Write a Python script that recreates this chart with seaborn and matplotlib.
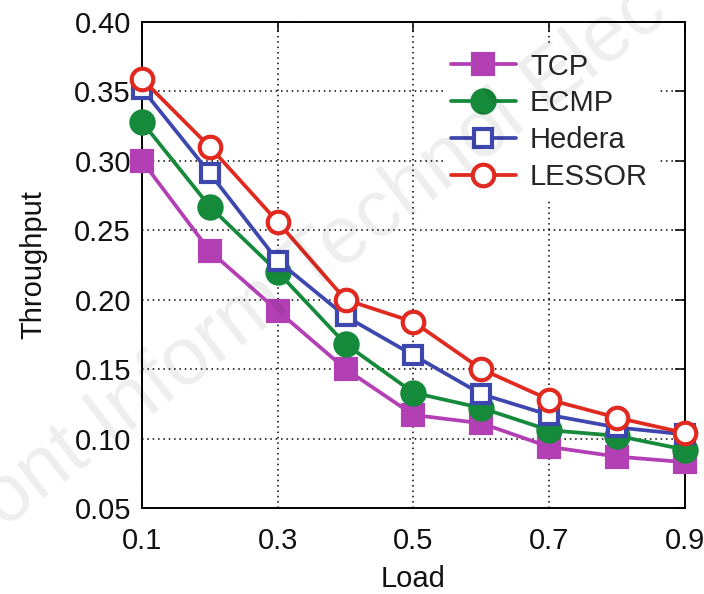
import matplotlib
matplotlib.use("Agg")
import matplotlib.pyplot as plt
import seaborn as sns
import pandas as pd
import numpy as np

load = [0.1, 0.2, 0.3, 0.4, 0.5, 0.6, 0.7, 0.8, 0.9]
tcp = [0.300, 0.235, 0.192, 0.150, 0.117, 0.111, 0.094, 0.087, 0.083]
ecmp = [0.328, 0.267, 0.220, 0.168, 0.133, 0.122, 0.106, 0.102, 0.092]
hedera = [0.352, 0.291, 0.228, 0.188, 0.160, 0.132, 0.117, 0.108, 0.103]
lessor = [0.359, 0.310, 0.256, 0.200, 0.184, 0.150, 0.128, 0.115, 0.104]
series_names = ["TCP", "ECMP", "Hedera", "LESSOR"]
x_ticks = [0.1, 0.3, 0.5, 0.7, 0.9]
y_ticks = [0.05, 0.10, 0.15, 0.20, 0.25, 0.30, 0.35, 0.40]

sns.set_style("white")
plt.rcParams['font.family'] = ['Liberation Sans', 'DejaVu Sans']

fig = plt.figure(figsize=(7.04, 5.94), dpi=100)
ax = fig.add_axes([0.2017, 0.1448, 0.973 - 0.2017, 0.963 - 0.1448])

styles = {
    "TCP": dict(color="#b23fb4", marker="s", mfc="#b23fb4", ms=14),
    "ECMP": dict(color="#158a3a", marker="o", mfc="#158a3a", ms=16),
    "Hedera": dict(color="#3d47ad", marker="s", mfc="white", ms=13.5),
    "LESSOR": dict(color="#e0291f", marker="o", mfc="white", ms=15.5),
}
values = {"TCP": tcp, "ECMP": ecmp, "Hedera": hedera, "LESSOR": lessor}

for name in series_names:
    df = pd.DataFrame({"Load": load, "Throughput": values[name]})
    st = styles[name]
    sns.lineplot(data=df, x="Load", y="Throughput", ax=ax, color=st["color"],
                 marker=st["marker"], markersize=st["ms"], markerfacecolor=st["mfc"],
                 markeredgecolor=st["color"], markeredgewidth=3, linewidth=2.7,
                 label=name, clip_on=False, zorder=3)

ax.set_xlim(0.1, 0.9)
ax.set_ylim(0.05, 0.40)
ax.set_xticks(x_ticks)
ax.set_xticklabels([f"{v:.1f}" for v in x_ticks])
ax.set_yticks(y_ticks)
ax.set_yticklabels([f"{v:.2f}" for v in y_ticks])
ax.tick_params(direction="in", length=7, width=1.2, top=True, right=True,
               labelsize=21, colors="#111111")
ax.tick_params(axis="y", pad=8)
ax.tick_params(axis="x", pad=14)
ax.grid(True, linestyle=(0, (1, 2.5)), color="black", linewidth=1.1)
for s in ax.spines.values():
    s.set_color("black")
    s.set_linewidth(1.4)
ax.set_xlabel("Load", fontsize=21, labelpad=7, color="#111111")
ax.set_ylabel("Throughput", fontsize=21, labelpad=19, color="#111111")

leg = ax.legend(loc="upper right", bbox_to_anchor=(0.975, 0.985), frameon=True,
                fontsize=21, handlelength=2.2, handletextpad=0.5, labelspacing=0.3,
                borderpad=0.3, framealpha=1)
leg.get_frame().set_edgecolor("white")
leg.get_frame().set_linewidth(0)
leg.set_zorder(5)

fig.text(-0.01, 0.06, "ront Inform Technol Elec", fontsize=58, color="#000000",
         alpha=0.07, rotation=37.5, rotation_mode="anchor", ha="left", va="bottom",
         zorder=10)

fig.savefig("out.png", dpi=100, facecolor="white")
